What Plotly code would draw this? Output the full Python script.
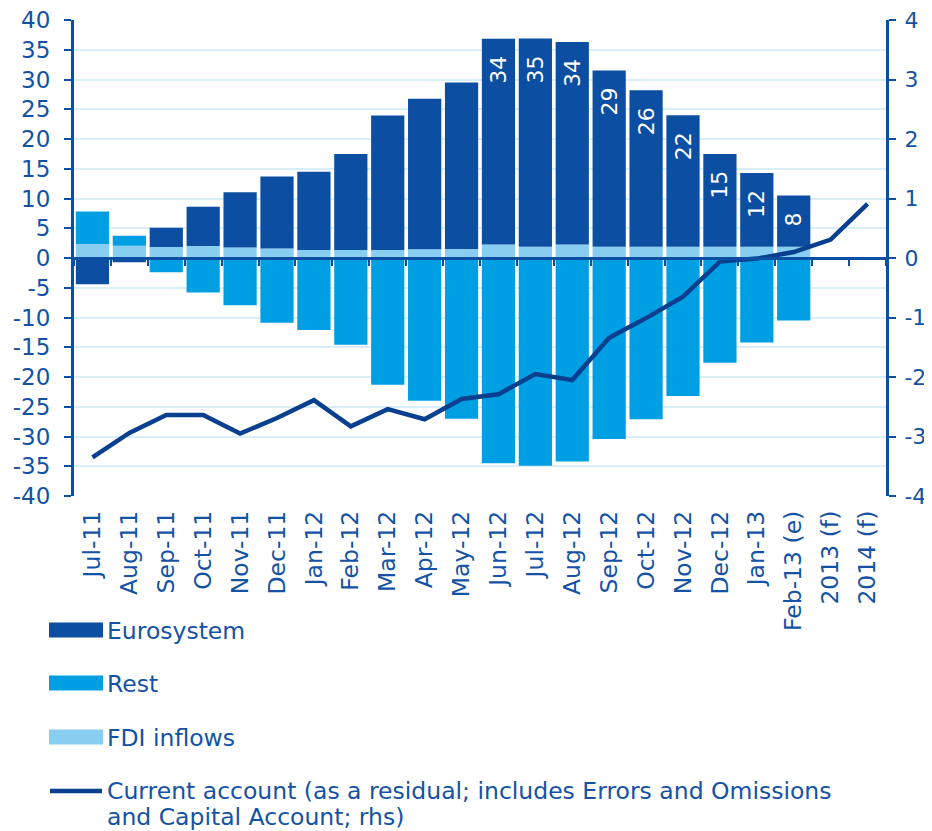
import plotly.graph_objects as go

categorias = ["Jul-11", "Aug-11", "Sep-11", "Oct-11", "Nov-11", "Dec-11",
              "Jan-12", "Feb-12", "Mar-12", "Apr-12", "May-12", "Jun-12",
              "Jul-12", "Aug-12", "Sep-12", "Oct-12", "Nov-12", "Dec-12",
              "Jan-13", "Feb-13 (e)", "2013 (f)", "2014 (f)"]

fdi = [2.35, 2.05, 1.85, 2.0, 1.75, 1.6, 1.35, 1.35, 1.35, 1.45, 1.5, 2.25,
       1.9, 2.25, 1.9, 1.9, 1.9, 1.9, 1.9, 1.9, None, None]
eurosistema = [-4.4, -0.7, 3.25, 6.6, 9.3, 12.1, 13.15, 16.15, 22.6, 25.3, 28.0,
               34.6, 35.0, 34.05, 29.6, 26.3, 22.1, 15.6, 12.4, 8.6, None, None]
resto = [5.45, 1.7, -2.4, -5.8, -7.95, -10.9, -12.1, -14.6, -21.3, -24.0, -27.0,
         -34.5, -34.9, -34.2, -30.4, -27.1, -23.2, -17.6, -14.2, -10.5, None, None]
etiquetas = ["", "", "", "", "", "", "", "", "", "", "",
             "34", "35", "34", "29", "26", "22", "15", "12", "8", "", ""]
cuenta_corriente = [-3.35, -2.94, -2.64, -2.64, -2.95, -2.69, -2.39, -2.83, -2.54,
                    -2.71, -2.37, -2.29, -1.95, -2.05, -1.34, -1.01, -0.65, -0.06,
                    -0.01, 0.1, 0.31, 0.91]

ticks_izq = list(range(-40, 45, 5))
ticks_der = list(range(-4, 5))

AZUL = "#0B4EA2"     # Eurosystem
CIAN = "#009FE3"     # Rest
CLARO = "#87CEF0"    # FDI
LINEA = "#083F8E"    # current account
TEXTO = "#1352A5"
GRID = "#D8EEF9"
FUENTE = "DejaVu Sans"

# la página deja 8 px de margen (body), así que la figura es 8 px más pequeña
OFF = 8
W, H = 932 - OFF, 831 - OFF
# área del gráfico en píxeles de la página
L, R, T, B = 74, 886, 20, 496


def px(x):
    return (x - L) / (R - L)


def py(y):
    return (B - y) / (B - T)


fig = go.Figure()

fig.add_trace(go.Bar(x=categorias, y=fdi, name="FDI inflows",
                     marker=dict(color=CLARO, line_width=0)))
fig.add_trace(go.Bar(x=categorias, y=eurosistema, name="Eurosystem",
                     marker=dict(color=AZUL, line_width=0),
                     text=etiquetas, texttemplate="%{text}\u00a0\u00a0",
                     textposition="inside", textangle=-90,
                     insidetextanchor="end", constraintext="none",
                     textfont=dict(color="white", size=22, family=FUENTE)))
fig.add_trace(go.Bar(x=categorias, y=resto, name="Rest",
                     marker=dict(color=CIAN, line_width=0)))
fig.add_trace(go.Scatter(x=categorias, y=cuenta_corriente, mode="lines",
                         name="Current account", xaxis="x2", yaxis="y2",
                         line=dict(color=LINEA, width=4.5)))

fig.update_layout(
    width=W, height=H,
    margin=dict(l=L - OFF, r=W - (R - OFF), t=T - OFF, b=H - (B - OFF), autoexpand=False),
    barmode="relative", bargap=0.1,
    plot_bgcolor="white", paper_bgcolor="white",
    showlegend=False,
    font=dict(family=FUENTE, color=TEXTO, size=22),
    xaxis=dict(
        showline=False, ticks="", showgrid=False, zeroline=False,
        tickangle=-90, tickfont=dict(size=23.5, color=TEXTO),
        range=[-0.5, 21.5], ticklabelstandoff=9, automargin=False,
    ),
    xaxis2=dict(
        overlaying="x", anchor="free", position=0.5, side="bottom",
        showline=True, linecolor=AZUL, linewidth=3,
        ticks="outside", ticklen=6, tickwidth=2, tickcolor=AZUL,
        tickson="boundaries", showticklabels=False, showgrid=False,
        zeroline=False, range=[-0.5, 21.5], automargin=False,
    ),
    yaxis=dict(
        range=[-40, 40], tickvals=ticks_izq, ticktext=[str(v) for v in ticks_izq],
        showline=True, linecolor=AZUL, linewidth=3,
        ticks="outside", ticklen=7, tickwidth=2, tickcolor=AZUL,
        showgrid=True, gridcolor=GRID, gridwidth=1.5, zeroline=False,
        tickfont=dict(size=23, color=TEXTO), ticklabelstandoff=9,
        ticklabeloverflow="allow", automargin=False,
    ),
    yaxis2=dict(
        overlaying="y", anchor="x2", side="right",
        range=[-4, 4], tickvals=ticks_der, ticktext=[str(v) for v in ticks_der],
        showline=True, linecolor=AZUL, linewidth=3,
        ticks="outside", ticklen=7, tickwidth=2, tickcolor=AZUL,
        showgrid=False, zeroline=False,
        tickfont=dict(size=22, color=TEXTO), ticklabelstandoff=4,
        ticklabeloverflow="allow", automargin=False,
    ),
)

# leyenda manual con rectángulos anchos como en el original
entradas = [("Eurosystem", AZUL, 630), ("Rest", CIAN, 683), ("FDI inflows", CLARO, 737)]
for nombre, color, yc in entradas:
    fig.add_shape(type="rect", xref="paper", yref="paper",
                  x0=px(49), x1=px(103), y0=py(yc - 7.5), y1=py(yc + 7.5),
                  fillcolor=color, line_width=0)
    fig.add_annotation(x=px(105), y=py(yc + 1), xref="paper", yref="paper",
                       text=nombre, showarrow=False, xanchor="left", yanchor="middle",
                       font=dict(size=23.5, color=TEXTO, family=FUENTE))

fig.add_shape(type="line", xref="paper", yref="paper",
              x0=px(50), x1=px(102), y0=py(791), y1=py(791),
              line=dict(color=LINEA, width=4.5))
lineas_ca = [("Current account (as a residual; includes Errors and Omissions", 791),
             ("and Capital Account; rhs)", 817)]
for texto, yc in lineas_ca:
    fig.add_annotation(x=px(105), y=py(yc), xref="paper", yref="paper",
                       text=texto, showarrow=False, xanchor="left", yanchor="middle",
                       font=dict(size=23.5, color=TEXTO, family=FUENTE))

fig.write_html("out.html")
